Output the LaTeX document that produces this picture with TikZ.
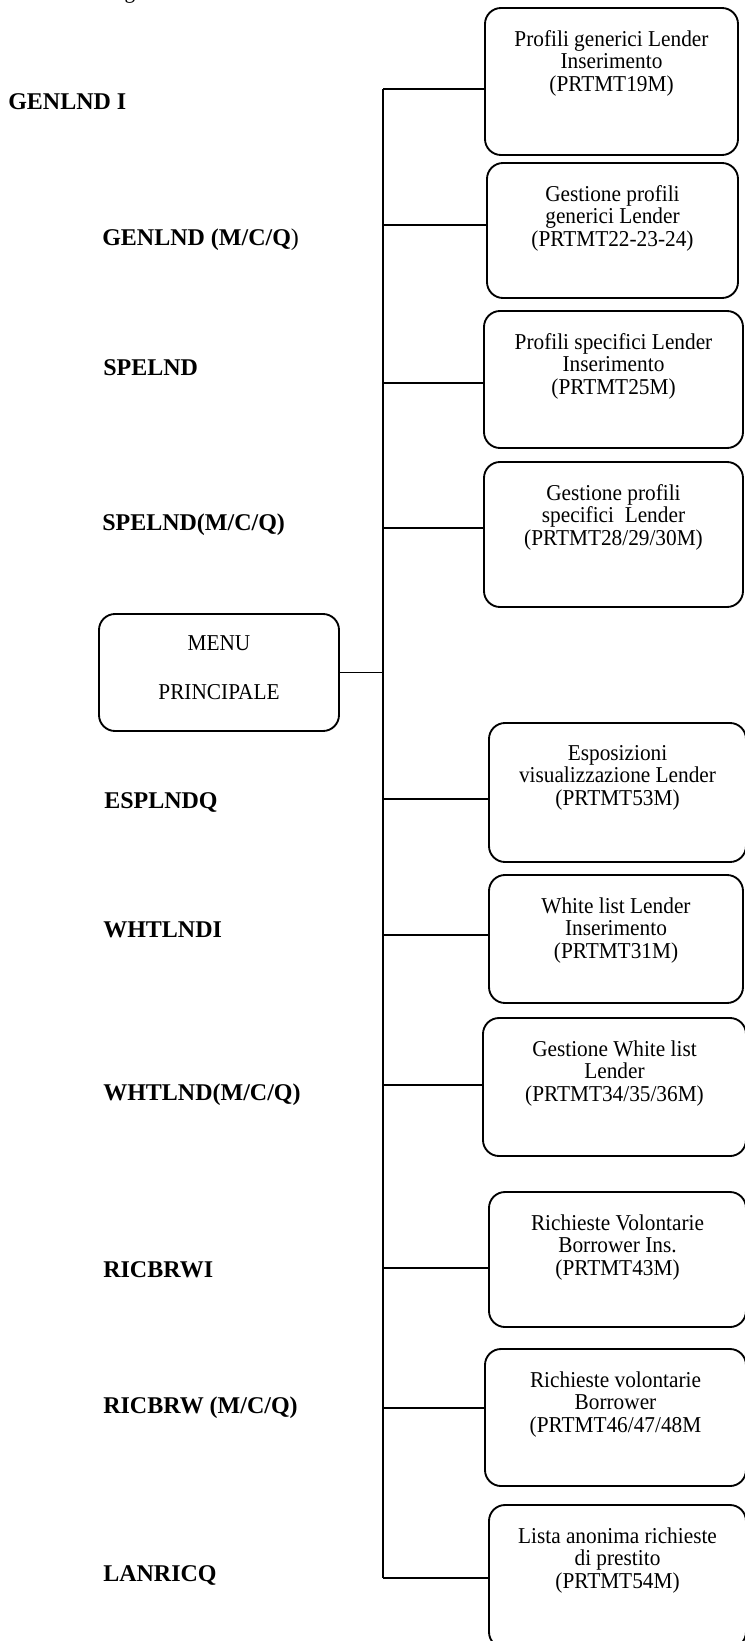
\documentclass[tikz,border=0pt]{standalone}
\usepackage{fontspec}
\setmainfont{Liberation Serif}
\newfontfamily\boxfont[FakeStretch=0.94]{Liberation Serif}
\newfontfamily\labfont{Liberation Serif}
\usepackage{tikz}

\begin{document}
\begin{tikzpicture}[x=0.75pt, y=-0.75pt,
    box/.style={draw, rectangle, rounded corners=12pt, line width=1.4pt, inner sep=0pt},
    boxtxt/.style={anchor=north, align=center, inner sep=0pt, font={\boxfont\fontsize{17}{17}\selectfont}},
    prog/.style={anchor=west, inner sep=0pt, font={\labfont\bfseries\fontsize{18}{22}\selectfont}},
    link/.style={line width=1.2pt}]
    \useasboundingbox (0,0) rectangle (745,1641);

    \node[anchor=base, inner sep=0pt, font={\boxfont\fontsize{17}{17}\selectfont}] (cut) at (130,-1) {g};

    \node[box, minimum width=180pt, minimum height=87.75pt] (menu) at (219,672.5) {};
    \node[boxtxt, anchor=center] (menutxt) at (219,668) {MENU\\[20pt]PRINCIPALE};

    \node[box, minimum width=189.75pt, minimum height=110.25pt] (b1) at (611.5,81.5) {};
    \node[boxtxt] (t1) at (611.5,30) {Profili generici Lender\\Inserimento\\(PRTMT19M)};
    \node[box, minimum width=188.25pt, minimum height=101.25pt] (b2) at (612.5,230.5) {};
    \node[boxtxt] (t2) at (612.5,185) {Gestione profili\\generici Lender\\(PRTMT22-23-24)};
    \node[box, minimum width=194.25pt, minimum height=102.75pt] (b3) at (613.5,379.5) {};
    \node[boxtxt] (t3) at (613.5,333) {Profili specifici Lender\\Inserimento\\(PRTMT25M)};
    \node[box, minimum width=194.25pt, minimum height=108.75pt] (b4) at (613.5,534.5) {};
    \node[boxtxt] (t4) at (613.5,484) {Gestione profili\\specifici~ Lender\\(PRTMT28/29/30M)};
    \node[box, minimum width=192.75pt, minimum height=104.25pt] (b5) at (617.5,792.5) {};
    \node[boxtxt] (t5) at (617.5,745) {Esposizioni\\visualizzazione Lender\\(PRTMT53M)};
    \node[box, minimum width=190.5pt, minimum height=96pt] (b6) at (616,939) {};
    \node[boxtxt] (t6) at (616,897) {White list Lender\\Inserimento\\(PRTMT31M)};
    \node[box, minimum width=197.25pt, minimum height=103.5pt] (b7) at (614.5,1087) {};
    \node[boxtxt] (t7) at (614.5,1040) {Gestione White list\\Lender\\(PRTMT34/35/36M)};
    \node[box, minimum width=192.75pt, minimum height=101.25pt] (b8) at (617.5,1259.5) {};
    \node[boxtxt] (t8) at (617.5,1214) {Richieste Volontarie\\Borrower Ins.\\(PRTMT43M)};
    \node[box, minimum width=195.75pt, minimum height=102.75pt] (b9) at (615.5,1417.5) {};
    \node[boxtxt] (t9) at (615.5,1371) {Richieste volontarie\\Borrower\\(PRTMT46/47/48M};
    \node[box, minimum width=192.75pt, minimum height=107.25pt] (b10) at (617.5,1576.5) {};
    \node[boxtxt] (t10) at (617.5,1527) {Lista anonima richieste\\di prestito\\(PRTMT54M)};

    \node[prog] (l1) at (8,102) {GENLND I};
    \node[prog] (l2) at (102,240) {GENLND (M/C/Q\mdseries)};
    \node[prog] (l3) at (103,368) {SPELND};
    \node[prog] (l4) at (102,525) {SPELND(M/C/Q)};
    \node[prog] (l5) at (104,802) {ESPLNDQ};
    \node[prog] (l6) at (103,930) {WHTLNDI};
    \node[prog] (l7) at (103,1095) {WHTLND(M/C/Q)};
    \node[prog] (l8) at (103,1270) {RICBRWI};
    \node[prog] (l9) at (103,1408) {RICBRW (M/C/Q)};
    \node[prog] (l10) at (103,1575) {LANRICQ};

    \coordinate (j1) at (383,89);
    \coordinate (j2) at (383,225);
    \coordinate (j3) at (383,383);
    \coordinate (j4) at (383,528);
    \coordinate (j5) at (383,799);
    \coordinate (j6) at (383,935);
    \coordinate (j7) at (383,1085);
    \coordinate (j8) at (383,1268);
    \coordinate (j9) at (383,1408);
    \coordinate (j10) at (383,1578);

    \draw[link] (j1) -- (j10);
    \draw[link] (menu) -- (menu -| j1);
    \draw[link] (j1) -- (j1 -| b1.west);
    \draw[link] (j2) -- (j2 -| b2.west);
    \draw[link] (j3) -- (j3 -| b3.west);
    \draw[link] (j4) -- (j4 -| b4.west);
    \draw[link] (j5) -- (j5 -| b5.west);
    \draw[link] (j6) -- (j6 -| b6.west);
    \draw[link] (j7) -- (j7 -| b7.west);
    \draw[link] (j8) -- (j8 -| b8.west);
    \draw[link] (j9) -- (j9 -| b9.west);
    \draw[link] (j10) -- (j10 -| b10.west);
\end{tikzpicture}
\end{document}
